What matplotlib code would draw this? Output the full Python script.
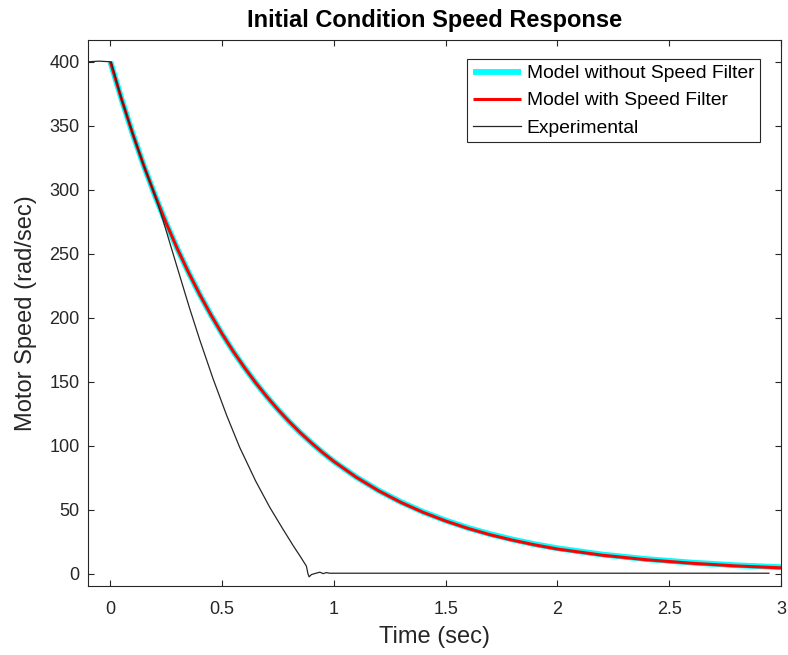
import matplotlib
matplotlib.use('Agg')
from matplotlib import pyplot as plt

plt.rcParams['font.family'] = ['Liberation Sans', 'DejaVu Sans']

# Simulated motor speed, both model variants (time in sec, speed in rad/sec)
model_t = [0.0, 0.05, 0.1, 0.15, 0.2, 0.25, 0.3, 0.35, 0.4, 0.45, 0.5,
           0.55, 0.6, 0.65, 0.7, 0.75, 0.8, 0.85, 0.9, 0.95, 1.0,
           1.1, 1.2, 1.3, 1.4, 1.5, 1.6, 1.7, 1.8, 1.9, 2.0,
           2.2, 2.4, 2.6, 2.8, 3.0]
model_no_filter = [400, 370.8, 343.7, 318.6, 295.4, 273.8, 253.8, 235.3,
                   218.1, 202.2, 187.4, 173.7, 161.1, 149.3, 138.4, 128.3,
                   118.9, 110.2, 102.2, 94.7, 87.8,
                   75.6, 65.1, 56.1, 48.3, 41.7, 35.9, 31.0, 26.8, 23.1, 20.0,
                   15.1, 11.5, 8.8, 6.7, 5.2]
model_filter = [400, 370.8, 343.7, 318.6, 295.4, 273.8, 253.8, 235.3,
                218.1, 202.2, 187.4, 173.7, 161.1, 149.3, 138.4, 128.3,
                118.9, 110.2, 102.2, 94.7, 87.8,
                75.5, 64.9, 55.8, 48.0, 41.3, 35.5, 30.5, 26.3, 22.6, 19.4,
                14.6, 11.0, 8.3, 6.2, 4.7]

# Measured coast-down
exp_t = [-0.1, -0.05, 0.0, 0.003, 0.05, 0.1, 0.15, 0.2, 0.235, 0.3, 0.354,
         0.4, 0.459, 0.52, 0.578, 0.65, 0.713, 0.77, 0.818, 0.85, 0.877,
         0.884, 0.889, 0.9, 0.92, 0.937, 0.952, 0.967, 0.98, 1.5, 2.0,
         2.5, 2.946]
exp_speed = [400, 400.5, 400, 400, 370.8, 343.7, 318.6, 295.4, 276.5,
             238.8, 207.7, 182.7, 152.6, 123.9, 99.0, 72.5, 52.0, 35.5,
             22.0, 13.5, 6.0, 0.0, -2.3, -0.5, 0.5, 1.3, 0.2, 1.0, 0.5,
             0.5, 0.5, 0.5, 0.5]

x_ticks = [0, 0.5, 1, 1.5, 2, 2.5, 3]
x_labels = ['0', '0.5', '1', '1.5', '2', '2.5', '3']
y_ticks = [0, 50, 100, 150, 200, 250, 300, 350, 400]

fig = plt.figure(figsize=(7.88, 6.55), dpi=100)
ax = fig.add_axes([0.1117, 0.1053, 0.8794, 0.8336])

ax.plot(model_t, model_no_filter, color='#00ffff', lw=4.2,
        label='Model without Speed Filter', solid_capstyle='butt')
ax.plot(model_t, model_filter, color='#ff0000', lw=2.2,
        label='Model with Speed Filter', solid_capstyle='butt')
ax.plot(exp_t, exp_speed, color='#262626', lw=0.9, label='Experimental')

ax.set_xlim(-0.1, 3)
ax.set_ylim(-9.5, 417)
ax.set_xticks(x_ticks)
ax.set_xticklabels(x_labels)
ax.set_yticks(y_ticks)

for side in ax.spines.values():
    side.set_color('#262626')
    side.set_linewidth(0.8)
ax.tick_params(axis='both', direction='in', top=True, right=True,
               length=4.3, width=0.8, color='#262626',
               labelsize=13, labelcolor='#262626')
ax.tick_params(axis='x', pad=10.5)
ax.tick_params(axis='y', pad=6)

ax.set_xlabel('Time (sec)', fontsize=17, color='#262626', labelpad=6)
ax.set_ylabel('Motor Speed (rad/sec)', fontsize=17, color='#262626',
              labelpad=9)
ax.set_title('Initial Condition Speed Response', fontsize=17,
             fontweight='bold', pad=9.5)

leg = ax.legend(loc='upper right', bbox_to_anchor=(0.9697, 0.9652),
                fontsize=13.9, handlelength=2.5, handletextpad=0.27,
                labelspacing=0.5, borderpad=0.3, borderaxespad=0,
                fancybox=False, framealpha=1)
leg.get_frame().set_edgecolor('#262626')
leg.get_frame().set_linewidth(0.8)

fig.savefig('out.png', dpi=100)
